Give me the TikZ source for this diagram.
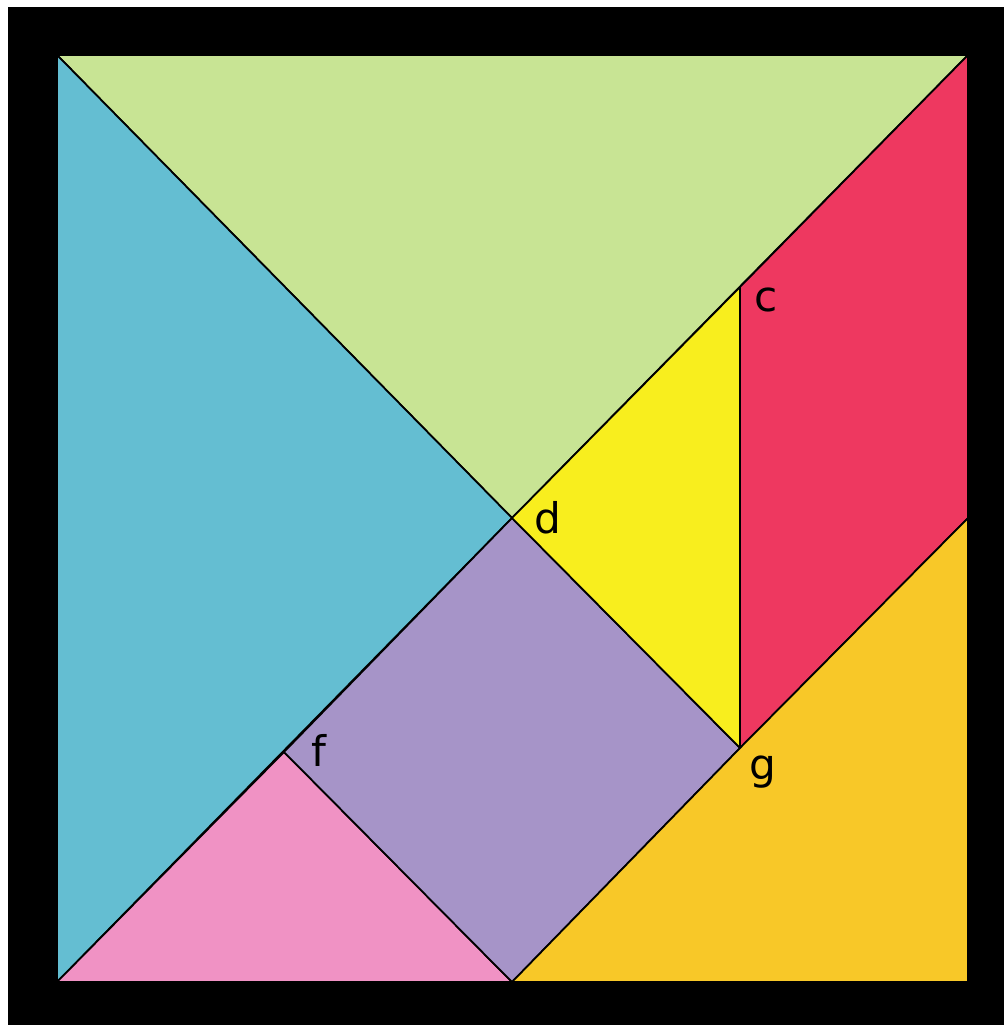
\documentclass[tikz,border=0pt]{standalone}
\usepackage{fontspec}
\setmainfont{DejaVu Sans}
\usetikzlibrary{positioning}
\definecolor{piecegreen}{HTML}{C8E494}
\definecolor{pieceblue}{HTML}{64BED2}
\definecolor{piecered}{HTML}{EE3860}
\definecolor{pieceyellow}{HTML}{F8EE1E}
\definecolor{piecepurple}{HTML}{A694C8}
\definecolor{piecepink}{HTML}{F092C4}
\definecolor{pieceorange}{HTML}{F8C828}
\tikzset{piece/.style={draw=black,line width=0.5pt,line join=round},
  vlabel/.style={font=\fontsize{12}{14}\selectfont,inner sep=0pt}}
\begin{document}
\begin{tikzpicture}[x=0.01cm,y=-0.01cm]
      \useasboundingbox (0,0) rectangle (1004,1025);
      \fill[black] (8,7) rectangle (1004,1025);
      % corners and vertices
      \coordinate (tl) at (57,55);
      \coordinate (tr) at (968,55);
      \coordinate (bl) at (57,982);
      \coordinate (br) at (968,982);
      \coordinate (rm) at (968,518);
      \coordinate (bm) at (512,982);
      \coordinate (c) at (740,287);
      \coordinate (d) at (512,518);
      \coordinate (f) at (284,752);
      \coordinate (g) at (740,748);
      % pieces
      \filldraw[piece,fill=piecegreen] (tl) -- (tr) -- (d) -- cycle;
      \filldraw[piece,fill=pieceblue] (tl) -- (d) -- (bl) -- cycle;
      \filldraw[piece,fill=piecepink] (bl) -- (f) -- (bm) -- cycle;
      \filldraw[piece,fill=piecepurple] (f) -- (d) -- (g) -- (bm) -- cycle;
      \filldraw[piece,fill=pieceyellow] (d) -- (c) -- (g) -- cycle;
      \filldraw[piece,fill=piecered] (c) -- (tr) -- (rm) -- (g) -- cycle;
      \filldraw[piece,fill=pieceorange] (rm) -- (br) -- (bm) -- (g) -- cycle;
      % labels
      \node[vlabel] (lc) at (766,300) {c};
      \node[vlabel] (ld) at (548,518) {d};
      \node[vlabel] (lf) at (319,750) {f};
      \node[vlabel] (lg) at (763,772) {g};
    \end{tikzpicture}
\end{document}
